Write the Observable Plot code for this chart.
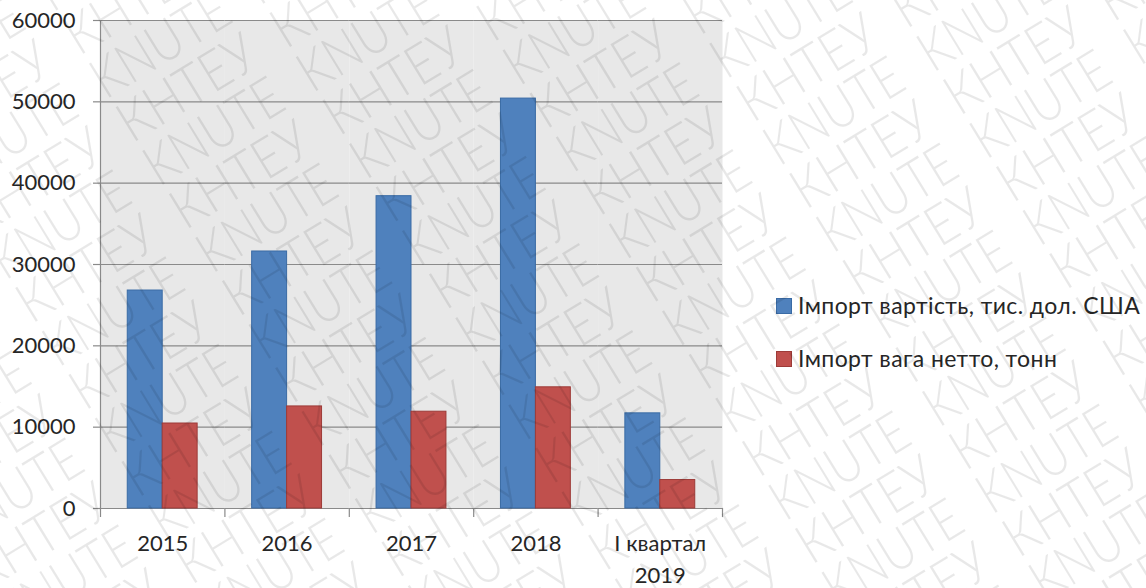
<!DOCTYPE html>
<html>
<head>
<meta charset="utf-8">
<script src="https://cdn.jsdelivr.net/npm/d3@7"></script>
<script src="https://cdn.jsdelivr.net/npm/@observablehq/plot@0.6"></script>
<style>
  html, body { margin: 0; padding: 0; background: #fff; }
  #wrap { position: relative; width: 1146px; height: 588px; overflow: hidden; font-family: Lato, "Open Sans", sans-serif; }
  #chart { position: absolute; left: 0; top: 0; }
  #legend { position: absolute; left: 776px; top: 292px; font-size: 23px; letter-spacing: 0.4px; color: #262626; }
  .item { position: relative; height: 26px; margin-bottom: 27px; white-space: nowrap; }
  .sw { position: absolute; left: 0; top: 6px; width: 16px; height: 16px; box-sizing: border-box; }
  .lbl { position: absolute; left: 22px; top: 0; line-height: 26px; }
  #wm { position: absolute; left: 0; top: 0; pointer-events: none; }
</style>
</head>
<body>
<div id="wrap"><div id="chart"></div><div id="legend"></div></div>
<script>
// ---- data ----
const categories = ["2015", "2016", "2017", "2018", "І квартал 2019"];
const seriesNames = ["Імпорт вартість, тис. дол. США", "Імпорт вага нетто, тонн"];
const importValue = [26800, 31600, 38400, 50400, 11700];
const importWeight = [10450, 12550, 11900, 14900, 3500];
const yTicks = [0, 10000, 20000, 30000, 40000, 50000, 60000];
const watermarkWords = ["KNUTE", "КНТЕУ"];

// ---- styles ----
const fills = ["#4f81bd", "#c0504d"];
const strokes = ["#3a6ba5", "#9d3b38"];
const gridColor = "#8a8a8a";

const rows = categories.flatMap((c, i) => [
  {cat: c, series: seriesNames[0], value: importValue[i]},
  {cat: c, series: seriesNames[1], value: importWeight[i]}
]);

const W = 740, H = 588, mL = 100, mR = 18, mT = 20, mB = 80;
const innerH = H - mT - mB;

const chart = Plot.plot({
  width: W, height: H,
  marginLeft: mL, marginRight: mR, marginTop: mT, marginBottom: mB,
  style: {fontFamily: "Lato, 'Open Sans', sans-serif", fontSize: "22px", color: "#262626", background: "transparent"},
  fx: {domain: categories, paddingInner: 0, paddingOuter: 0, round: false, label: null},
  x: {domain: seriesNames, paddingInner: 0, paddingOuter: 0.78, round: false, axis: null},
  y: {domain: [0, 60000], label: null},
  marks: [
    Plot.frame({fill: "#e8e8e8", stroke: null}),
    Plot.gridY(yTicks, {stroke: gridColor, strokeOpacity: 1, strokeWidth: 1.2}),
    Plot.barY(rows.filter(d => d.series === seriesNames[0]), {fx: "cat", x: "series", y: "value", fill: fills[0], stroke: strokes[0], strokeWidth: 1}),
    Plot.barY(rows.filter(d => d.series === seriesNames[1]), {fx: "cat", x: "series", y: "value", fill: fills[1], stroke: strokes[1], strokeWidth: 1}),
    Plot.frame({anchor: "right", stroke: gridColor, strokeWidth: 1.2, insetTop: innerH, insetBottom: -8}),
    Plot.frame({anchor: "left", facet: "super", stroke: gridColor, strokeWidth: 1.2, insetBottom: -8}),
    Plot.axisY({ticks: yTicks, tickSize: 7, tickPadding: 18, tickFormat: d => String(d), stroke: gridColor, strokeWidth: 1.2, fill: "#262626", label: null}),
    Plot.axisFx({anchor: "bottom", tickSize: 0, tickPadding: 20, lineHeight: 1.45, fill: "#262626", label: null,
      tickFormat: d => d.length > 4 ? d.replace(/ (\d{4})$/, "\n$1") : d})
  ]
});
document.getElementById("chart").appendChild(chart);

// ---- legend ----
const legend = d3.select("#legend");
seriesNames.forEach((name, i) => {
  const item = legend.append("div").attr("class", "item");
  item.append("div").attr("class", "sw").style("background", fills[i]).style("border", `1px solid ${strokes[i]}`);
  item.append("div").attr("class", "lbl").text(name);
});

// ---- watermark ----
const wm = d3.select("#wrap").append("svg").attr("id", "wm").attr("width", 1146).attr("height", 588);
const g = wm.append("g").attr("transform", "translate(779,167) rotate(-31.4)")
  .attr("font-family", "Lato, 'Open Sans', sans-serif").attr("font-size", 56).attr("font-weight", 300)
  .attr("fill", "rgba(0,0,0,0.09)");
for (let n = -14; n <= 14; n++) {
  for (let k = -9; k <= 9; k++) {
    g.append("text").attr("x", k * 180).attr("y", n * 51)
      .attr("textLength", 152).attr("lengthAdjust", "spacingAndGlyphs")
      .text(watermarkWords[((n % 2) + 2) % 2]);
  }
}
</script>
</body>
</html>
